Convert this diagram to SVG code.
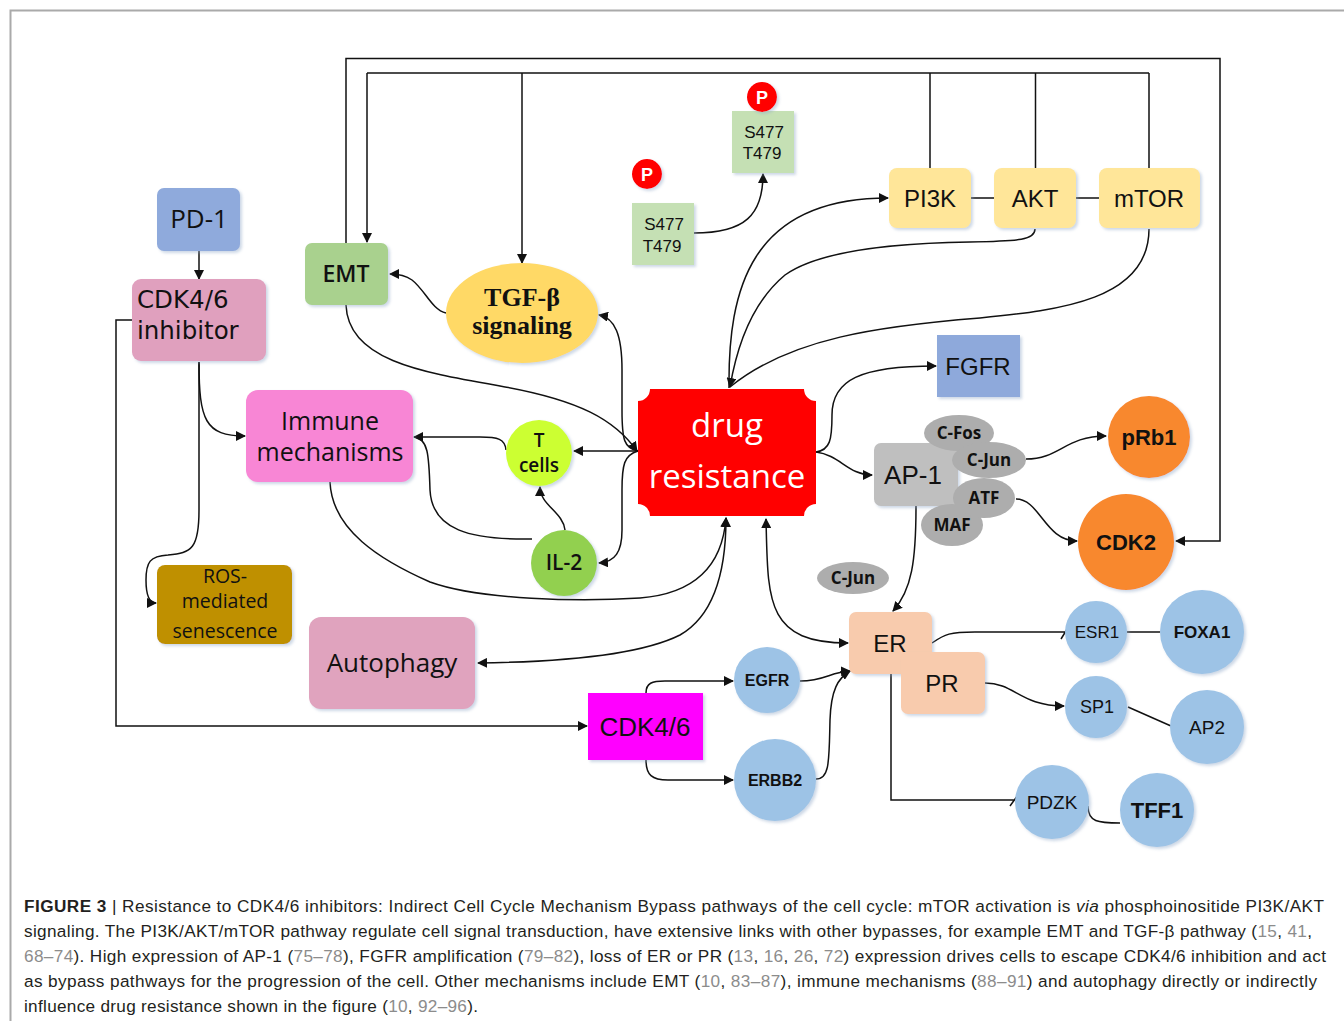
<svg xmlns="http://www.w3.org/2000/svg" width="1344" height="1021" viewBox="0 0 1344 1021">
<style>
.c{fill:none;stroke:#111;stroke-width:1.5}
.a{marker-end:url(#ah)}
.b{marker-start:url(#ah);marker-end:url(#ah)}
.t{font-family:"Open Sans","Noto Sans","Liberation Sans",sans-serif;fill:#111;text-anchor:middle}
.r{font-family:"Liberation Sans",Arial,sans-serif;fill:#111;text-anchor:middle}
.d{font-family:"DejaVu Sans","Liberation Sans",sans-serif;fill:#111}
.sh{filter:url(#ds)}
.cap{font-family:"Liberation Sans",Arial,sans-serif;font-size:17.2px;fill:#231f20}
.g{fill:#8c8c8c}
</style>
<defs>
<marker id="ah" viewBox="0 0 10 10" refX="9" refY="5" markerWidth="10" markerHeight="10" markerUnits="userSpaceOnUse" orient="auto-start-reverse"><path d="M0,0 L10,5 L0,10 z" fill="#111"/></marker>
<filter id="ds" x="-20%" y="-20%" width="140%" height="140%"><feDropShadow dx="2" dy="2" stdDeviation="1.5" flood-color="#8fa7c8" flood-opacity="0.45"/></filter>
</defs>
<rect width="1344" height="1021" fill="#fff"/>
<path d="M10.5 1021 V10.5 H1344" fill="none" stroke="#aaa" stroke-width="2"/>

<g id="connectors">
<path class="c a" d="M346 243 V58.5 H1220 V541 H1176"/>
<path class="c" d="M367 73 H1149"/>
<path class="c a" d="M367 73 V242"/>
<path class="c a" d="M522 73 V263"/>
<path class="c" d="M930 73 V168 M1035.5 73 V168 M1149 73 V168"/>
<path class="c" d="M971 198 H994 M1076 198 H1099"/>
<path class="c a" d="M199 251 V279"/>
<path class="c a" d="M132 320 H116 V726 H587"/>
<path class="c a" d="M199 362 C199 420,205 436,245 436"/>
<path class="c a" d="M199 362 V510 C199 548,192 553,168 555 C150 556,146 562,146 580 C146 596,149 603,156 603"/>
<path class="c a" d="M446 313 C432 310,425 290,412 280 C405 275,398 274,390 274"/>
<path class="c a" d="M346 305 C348 360,420 372,500 386 C580 400,615 420,637 451"/>
<path class="c a" d="M638 451 C624 448,622 440,622 410 L622 370 C622 335,615 318,599 315"/>
<path class="c a" d="M638 451 H574"/>
<path class="c a" d="M638 451 C624 455,622 465,622 490 L622 530 C622 552,615 562,599 563"/>
<path class="c a" d="M506 450 C505 439,498 437,480 437 L414 437"/>
<path class="c" d="M532 539 C470 540,432 530,430 490 C429 455,428 438,414 437"/>
<path class="c a" d="M565 530 C563 512,540 505,540 487"/>
<path class="c a" d="M330 482 C332 530,380 560,430 582 C480 600,580 602,640 598 C690 594,722 570,726 518"/>
<path class="c b" d="M478 663 C560 662,640 655,680 635 C715 615,726 570,726 518"/>
<path class="c b" d="M766 519 C768 600,765 643,848 643"/>
<path class="c a" d="M816 452 C830 450,832 440,832 415 C832 380,860 366,936 366"/>
<path class="c a" d="M816 452 C840 455,848 475,872 475"/>
<path class="c a" d="M1026 459 C1060 459,1065 436,1106 436"/>
<path class="c a" d="M1016 499 C1040 499,1045 541,1077 541"/>
<path class="c a" d="M916 506 C916 560,912 590,893 611"/>
<path class="c a" d="M694 233 C745 233,763 215,763 174"/>
<path class="c a" d="M729 388 C728 290,750 198,888 198"/>
<path class="c a" d="M1035 229 C1035 240,1020 241,970 242 C900 243,820 250,785 275 C755 300,738 340,730 387"/>
<path class="c" d="M1149 229 C1149 300,1060 310,980 318 C880 326,790 338,730 387"/>
<path class="c" d="M932 643 C945 634,950 632,975 632 L1065 632 M1061 639 L1069 626"/>
<path class="c" d="M1127 632 H1160"/>
<path class="c a" d="M985 683 C1015 683,1020 706,1064 706"/>
<path class="c" d="M1128 707 L1171 726"/>
<path class="c" d="M891 674 V800 H1015 M1010 806 L1018 795"/>
<path class="c" d="M1088 806 C1088 822,1098 823,1120 823"/>
<path class="c a" d="M646 693 C646 683,652 681,665 681 L733 681"/>
<path class="c a" d="M646 760 C646 775,652 780,668 780 L733 780"/>
<path class="c a" d="M800 681 C825 681,830 672,850 671"/>
<path class="c a" d="M816 779 C830 779,829 760,830 720 C831 690,838 678,850 671"/>
</g>

<g id="pd1"><rect class="sh" x="157" y="188" width="83" height="63" rx="7" fill="#8faadc"/><text class="t" x="199" y="228" font-size="26">PD-1</text></g>
<g id="cdk-inhibitor"><rect class="sh" x="132" y="279" width="134" height="82" rx="9" fill="#e0a0be"/><text class="d" x="137" y="308" font-size="24.5">CDK4/6</text><text class="d" x="137" y="339" font-size="24.5">inhibitor</text></g>
<g id="emt"><rect class="sh" x="305" y="243" width="83" height="62" rx="7" fill="#a9d18e"/><text class="t" x="346" y="282" font-size="23" font-weight="600">EMT</text></g>
<g id="tgf"><ellipse class="sh" cx="522" cy="313" rx="76" ry="50" fill="#ffd966"/><text x="522" y="306" font-family="Liberation Serif,Times New Roman,serif" font-weight="bold" font-size="26" text-anchor="middle" fill="#111">TGF-β</text><text x="522" y="334" font-family="Liberation Serif,Times New Roman,serif" font-weight="bold" font-size="26" text-anchor="middle" fill="#111">signaling</text></g>
<g id="immune"><rect class="sh" x="246" y="390" width="167" height="92" rx="12" fill="#f886d5"/><text class="t" x="330" y="430" font-size="25">Immune</text><text class="t" x="330" y="461" font-size="25">mechanisms</text></g>
<g id="tcells"><circle class="sh" cx="539" cy="453" r="33" fill="#ccff33"/><text class="t" x="539" y="447" font-size="19" font-weight="600">T</text><text class="t" x="539" y="472" font-size="19" font-weight="600">cells</text></g>
<g id="il2"><circle class="sh" cx="564" cy="563" r="33" fill="#92d050"/><text class="t" x="564" y="570" font-size="21" font-weight="600">IL-2</text></g>
<g id="ros"><rect class="sh" x="157" y="565" width="135" height="79" rx="8" fill="#bf9000"/><text class="t" x="225" y="583" font-size="19.5">ROS-</text><text class="t" x="225" y="608" font-size="19.5">mediated</text><text class="t" x="225" y="638" font-size="19.5">senescence</text></g>
<g id="autophagy"><rect class="sh" x="309" y="617" width="166" height="92" rx="12" fill="#e0a3be"/><text class="t" x="392" y="672" font-size="26">Autophagy</text></g>
<g id="drug-resistance"><path d="M650 389 H804 A12 12 0 0 0 816 401 V504 A12 12 0 0 0 804 516 H650 A12 12 0 0 0 638 504 V401 A12 12 0 0 0 650 389 Z" fill="#ff0000"/><text class="t" x="727" y="437" font-size="33" style="fill:#fff">drug</text><text class="t" x="727" y="488" font-size="33" style="fill:#fff">resistance</text></g>
<g id="s477-a"><rect class="sh" x="732" y="111" width="62" height="62" fill="#c5e0b4"/><text class="r" x="764" y="138" font-size="17">S477</text><text class="r" x="762" y="159" font-size="17">T479</text></g>
<g id="p-a"><circle class="sh" cx="762" cy="97" r="15" fill="#ff0000"/><text class="r" x="762" y="104" font-size="18" font-weight="bold" style="fill:#fff">P</text></g>
<g id="s477-b"><rect class="sh" x="632" y="203" width="62" height="62" fill="#c5e0b4"/><text class="r" x="664" y="230" font-size="17">S477</text><text class="r" x="662" y="252" font-size="17">T479</text></g>
<g id="p-b"><circle class="sh" cx="647" cy="174" r="15" fill="#ff0000"/><text class="r" x="647" y="181" font-size="18" font-weight="bold" style="fill:#fff">P</text></g>
<g id="pi3k"><rect class="sh" x="889" y="168" width="82" height="60" rx="8" fill="#ffe699"/><text class="r" x="930" y="207" font-size="24">PI3K</text></g>
<g id="akt"><rect class="sh" x="994" y="168" width="82" height="60" rx="8" fill="#ffe699"/><text class="r" x="1035" y="207" font-size="24">AKT</text></g>
<g id="mtor"><rect class="sh" x="1099" y="168" width="101" height="60" rx="8" fill="#ffe699"/><text class="r" x="1149" y="207" font-size="24">mTOR</text></g>
<g id="fgfr"><rect class="sh" x="937" y="335" width="83" height="62" fill="#8ea9db"/><text class="r" x="978" y="375" font-size="24">FGFR</text></g>
<g id="ap1"><rect class="sh" x="874" y="443" width="84" height="63" rx="7" fill="#bfbfbf"/><text class="r" x="913" y="484" font-size="26">AP-1</text></g>
<g id="cfos"><ellipse cx="959" cy="433" rx="35" ry="18" fill="#adadad"/><text class="t" x="959" y="439" font-size="17" font-weight="bold">C-Fos</text></g>
<g id="cjun"><ellipse cx="989" cy="460" rx="37" ry="18" fill="#adadad"/><text class="t" x="989" y="466" font-size="17" font-weight="bold">C-Jun</text></g>
<g id="maf"><ellipse cx="952" cy="525" rx="31" ry="21" fill="#adadad"/><text class="t" x="952" y="531" font-size="17" font-weight="bold">MAF</text></g>
<g id="atf"><ellipse cx="984" cy="498" rx="31" ry="20" fill="#adadad"/><text class="t" x="984" y="504" font-size="17" font-weight="bold">ATF</text></g>
<g id="cjun2"><ellipse cx="853" cy="578" rx="36" ry="16" fill="#adadad"/><text class="t" x="853" y="584" font-size="17" font-weight="bold">C-Jun</text></g>
<g id="prb1"><circle class="sh" cx="1149" cy="437" r="41" fill="#f8882f"/><text class="r" x="1149" y="445" font-size="22" font-weight="bold">pRb1</text></g>
<g id="cdk2"><circle class="sh" cx="1126" cy="542" r="48" fill="#f8882f"/><text class="r" x="1126" y="550" font-size="22" font-weight="bold">CDK2</text></g>
<g id="er"><rect class="sh" x="849" y="612" width="83" height="62" rx="7" fill="#f8cbad"/><text class="r" x="890" y="652" font-size="24">ER</text></g>
<g id="pr"><rect class="sh" x="901" y="652" width="84" height="62" rx="7" fill="#f8cbad"/><text class="r" x="942" y="692" font-size="24">PR</text></g>
<g id="cdk46"><rect class="sh" x="588" y="693" width="115" height="67" fill="#ff00ff"/><text class="r" x="645" y="736" font-size="26">CDK4/6</text></g>
<g id="egfr"><circle class="sh" cx="767" cy="680" r="33" fill="#9dc3e6"/><text class="r" x="767" y="686" font-size="16" font-weight="bold">EGFR</text></g>
<g id="erbb2"><circle class="sh" cx="775" cy="780" r="41" fill="#9dc3e6"/><text class="r" x="775" y="786" font-size="16" font-weight="bold">ERBB2</text></g>
<g id="esr1"><circle class="sh" cx="1096" cy="632" r="31" fill="#9dc3e6"/><text class="r" x="1097" y="638" font-size="17">ESR1</text></g>
<g id="foxa1"><circle class="sh" cx="1202" cy="632" r="42" fill="#9dc3e6"/><text class="r" x="1202" y="638" font-size="17" font-weight="bold">FOXA1</text></g>
<g id="sp1"><circle class="sh" cx="1096" cy="707" r="31" fill="#9dc3e6"/><text class="r" x="1097" y="713" font-size="18">SP1</text></g>
<g id="ap2"><circle class="sh" cx="1207" cy="727" r="37" fill="#9dc3e6"/><text class="r" x="1207" y="734" font-size="19">AP2</text></g>
<g id="pdzk"><circle class="sh" cx="1052" cy="802" r="37" fill="#9dc3e6"/><text class="r" x="1052" y="809" font-size="19">PDZK</text></g>
<g id="tff1"><circle class="sh" cx="1157" cy="810" r="37" fill="#9dc3e6"/><text class="r" x="1157" y="818" font-size="22" font-weight="bold">TFF1</text></g>

<g id="caption">
<text class="cap" x="24" y="912" textLength="1300" lengthAdjust="spacing"><tspan font-weight="bold">FIGURE 3</tspan> | Resistance to CDK4/6 inhibitors: Indirect Cell Cycle Mechanism Bypass pathways of the cell cycle: mTOR activation is <tspan font-style="italic">via</tspan> phosphoinositide PI3K/AKT</text>
<text class="cap" x="24" y="937" textLength="1288" lengthAdjust="spacing">signaling. The PI3K/AKT/mTOR pathway regulate cell signal transduction, have extensive links with other bypasses, for example EMT and TGF-β pathway (<tspan class="g">15</tspan>, <tspan class="g">41</tspan>,</text>
<text class="cap" x="24" y="962" textLength="1302" lengthAdjust="spacing"><tspan class="g">68–74</tspan>). High expression of AP-1 (<tspan class="g">75–78</tspan>), FGFR amplification (<tspan class="g">79–82</tspan>), loss of ER or PR (<tspan class="g">13</tspan>, <tspan class="g">16</tspan>, <tspan class="g">26</tspan>, <tspan class="g">72</tspan>) expression drives cells to escape CDK4/6 inhibition and act</text>
<text class="cap" x="24" y="987" textLength="1293" lengthAdjust="spacing">as bypass pathways for the progression of the cell. Other mechanisms include EMT (<tspan class="g">10</tspan>, <tspan class="g">83–87</tspan>), immune mechanisms (<tspan class="g">88–91</tspan>) and autophagy directly or indirectly</text>
<text class="cap" x="24" y="1012" textLength="454" lengthAdjust="spacing">influence drug resistance shown in the figure (<tspan class="g">10</tspan>, <tspan class="g">92–96</tspan>).</text>
</g>
</svg>
